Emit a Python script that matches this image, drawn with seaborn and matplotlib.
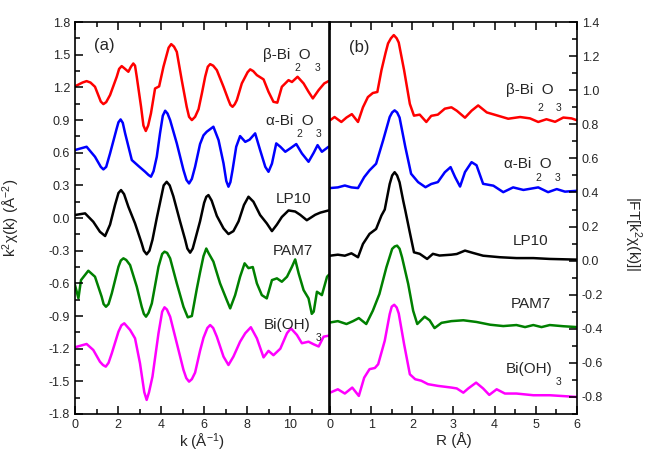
import matplotlib
matplotlib.use("Agg")
import matplotlib.pyplot as plt
from matplotlib.ticker import MultipleLocator, FormatStrFormatter
import seaborn as sns

# ---- (a) k-space, k^2 chi(k), offset curves ----
k_beta = [0, 0.35, 0.54, 0.72, 0.93, 1.2, 1.32, 1.45, 1.63, 1.94, 2.05, 2.17, 2.3, 2.48, 2.6, 2.71,
          2.79, 2.87, 3.07, 3.18, 3.29, 3.4, 3.53, 3.72, 3.91, 4.11, 4.35, 4.47, 4.6, 4.73, 4.96,
          5.19, 5.3, 5.43, 5.58, 5.74, 5.9, 6.05, 6.17, 6.28, 6.42, 6.59, 6.9, 7.13, 7.22, 7.32,
          7.42, 7.52, 7.75, 8.02, 8.14, 8.28, 8.45, 8.76, 8.99, 9.22, 9.4, 9.61, 9.92, 10.08,
          10.34, 10.62, 10.85, 11.05, 11.32, 11.58, 11.78]
chi_beta = [1.21, 1.245, 1.258, 1.245, 1.206, 1.07, 1.047, 1.065, 1.13, 1.298, 1.37, 1.396, 1.375,
            1.344, 1.39, 1.42, 1.40, 1.298, 1.022, 0.85, 0.80, 0.85, 0.962, 1.19, 1.21, 1.39, 1.565,
            1.598, 1.575, 1.527, 1.267, 1.022, 0.93, 0.90, 0.93, 1.0, 1.15, 1.30, 1.39, 1.414, 1.40,
            1.359, 1.206, 1.084, 1.04, 1.022, 1.045, 1.084, 1.237, 1.34, 1.366, 1.35, 1.313, 1.274,
            1.16, 1.068, 1.06, 1.206, 1.267, 1.25, 1.298, 1.237, 1.16, 1.099, 1.176, 1.237, 1.258]

k_alpha = [0, 0.54, 0.93, 1.2, 1.32, 1.45, 1.63, 1.94, 2.02, 2.12, 2.22, 2.33, 2.64, 2.95, 3.26,
           3.42, 3.53, 3.65, 3.8, 3.95, 4.08, 4.19, 4.3, 4.42, 4.73, 5.04, 5.18, 5.3, 5.43, 5.58,
           5.81, 5.97, 6.12, 6.43, 6.67, 6.9, 7.03, 7.13, 7.22, 7.32, 7.49, 7.67, 7.91, 8.11, 8.37,
           8.6, 8.84, 8.99, 9.15, 9.35, 9.54, 9.77, 10.0, 10.28, 10.54, 10.85, 11.09, 11.27, 11.47,
           11.78]
chi_alpha = [0.625, 0.655, 0.563, 0.47, 0.447, 0.47, 0.594, 0.824, 0.88, 0.906, 0.875, 0.778,
             0.533, 0.478, 0.425, 0.395, 0.38, 0.43, 0.563, 0.778, 0.94, 0.986, 0.96, 0.90, 0.686,
             0.441, 0.35, 0.318, 0.36, 0.471, 0.68, 0.76, 0.793, 0.839, 0.716, 0.503, 0.34, 0.288,
             0.33, 0.441, 0.655, 0.753, 0.70, 0.72, 0.778, 0.625, 0.471, 0.425, 0.5, 0.686, 0.655,
             0.609, 0.64, 0.68, 0.594, 0.517, 0.6, 0.67, 0.609, 0.655]

k_lp10 = [0, 0.47, 0.85, 1.16, 1.4, 1.63, 1.86, 2.02, 2.14, 2.28, 2.48, 2.79, 3.1, 3.2, 3.33, 3.46,
          3.6, 3.8, 3.95, 4.12, 4.26, 4.4, 4.57, 4.88, 5.12, 5.22, 5.35, 5.47, 5.58, 5.81, 6.0,
          6.1, 6.2, 6.35, 6.59, 6.9, 7.13, 7.36, 7.6, 7.85, 8.06, 8.29, 8.6, 8.91, 9.15, 9.38,
          9.61, 9.92, 10.23, 10.46, 10.77, 11.16, 11.4, 11.78]
chi_lp10 = [0.028, 0.043, -0.034, -0.126, -0.165, -0.06, 0.12, 0.23, 0.257, 0.22, 0.104, -0.049,
            -0.233, -0.3, -0.333, -0.3, -0.2, 0.0, 0.14, 0.3, 0.333, 0.3, 0.2, -0.03, -0.2, -0.28,
            -0.318, -0.28, -0.2, -0.03, 0.14, 0.195, 0.211, 0.16, 0.02, -0.095, -0.147, -0.12,
            -0.03, 0.12, 0.196, 0.15, 0.028, -0.049, -0.12, -0.06, 0.01, 0.07, 0.06, 0.03, -0.02,
            0.03, 0.05, 0.07]

k_pam7 = [0, 0.16, 0.28, 0.62, 0.93, 1.24, 1.33, 1.44, 1.56, 1.71, 2.02, 2.13, 2.25, 2.38, 2.56,
          2.87, 3.1, 3.2, 3.3, 3.42, 3.57, 3.88, 4.05, 4.16, 4.28, 4.42, 4.73, 5.04, 5.24, 5.43,
          5.66, 5.81, 5.97, 6.1, 6.2, 6.43, 6.74, 7.05, 7.21, 7.44, 7.67, 7.88, 8.06, 8.26, 8.45,
          8.68, 8.91, 9.15, 9.38, 9.61, 9.85, 10.08, 10.23, 10.39, 10.62, 10.85, 11.0, 11.09,
          11.24, 11.47, 11.71, 11.8]
chi_pam7 = [-0.615, -0.737, -0.57, -0.484, -0.539, -0.723, -0.79, -0.815, -0.79, -0.692, -0.447,
            -0.39, -0.37, -0.385, -0.432, -0.63, -0.815, -0.88, -0.906, -0.87, -0.784, -0.447,
            -0.33, -0.309, -0.32, -0.37, -0.6, -0.815, -0.912, -0.9, -0.65, -0.5, -0.35, -0.28,
            -0.32, -0.40, -0.6, -0.753, -0.83, -0.708, -0.539, -0.416, -0.46, -0.45, -0.6, -0.708,
            -0.738, -0.57, -0.554, -0.585, -0.539, -0.447, -0.38, -0.508, -0.662, -0.738, -0.88,
            -0.86, -0.677, -0.708, -0.539, -0.52]

k_bioh = [0, 0.54, 0.85, 1.16, 1.3, 1.43, 1.56, 1.71, 2.02, 2.16, 2.29, 2.56, 2.79, 3.02, 3.22,
          3.33, 3.44, 3.6, 3.88, 4.05, 4.16, 4.27, 4.42, 4.73, 5.04, 5.17, 5.3, 5.43, 5.58, 5.81,
          5.97, 6.15, 6.28, 6.42, 6.59, 6.9, 7.13, 7.36, 7.67, 7.91, 8.17, 8.45, 8.76, 8.99, 9.22,
          9.54, 9.85, 10.03, 10.31, 10.54, 10.85, 11.09, 11.32, 11.55, 11.8]
chi_bioh = [-1.187, -1.157, -1.212, -1.32, -1.35, -1.365, -1.33, -1.243, -1.044, -0.985, -0.967,
            -1.028, -1.105, -1.334, -1.6, -1.671, -1.6, -1.457, -1.058, -0.86, -0.82, -0.84,
            -0.906, -1.15, -1.395, -1.47, -1.503, -1.48, -1.42, -1.22, -1.10, -1.01, -0.983,
            -1.01, -1.09, -1.273, -1.35, -1.273, -1.136, -1.058, -1.003, -1.105, -1.28, -1.22,
            -1.26, -1.2, -1.058, -1.013, -1.074, -1.15, -1.136, -1.16, -1.18, -1.09, -1.08]

# ---- (b) R-space, |FT|, offset curves ----
r_beta = [0, 0.11, 0.275, 0.4, 0.53, 0.68, 0.8, 0.92, 1.04, 1.15, 1.25, 1.35, 1.41, 1.48, 1.55,
          1.62, 1.67, 1.8, 1.94, 2.04, 2.18, 2.34, 2.46, 2.62, 2.79, 2.95, 3.08, 3.28, 3.44, 3.6,
          3.81, 4.05, 4.33, 4.62, 4.86, 5.06, 5.26, 5.47, 5.67, 5.87, 6.0]
ft_beta = [0.824, 0.843, 0.814, 0.84, 0.86, 0.814, 0.90, 0.96, 0.984, 0.99, 1.118, 1.22, 1.275,
           1.305, 1.324, 1.305, 1.28, 1.118, 0.92, 0.851, 0.857, 0.814, 0.85, 0.857, 0.892, 0.90,
           0.88, 0.839, 0.88, 0.911, 0.87, 0.853, 0.833, 0.843, 0.835, 0.814, 0.83, 0.815, 0.84,
           0.835, 0.824]

r_alpha = [0, 0.19, 0.36, 0.52, 0.68, 0.83, 0.96, 1.12, 1.29, 1.45, 1.51, 1.57, 1.63, 1.69, 1.83,
           1.97, 2.14, 2.32, 2.46, 2.62, 2.79, 2.93, 3.04, 3.16, 3.28, 3.44, 3.56, 3.72, 3.97,
           4.21, 4.45, 4.7, 5.06, 5.3, 5.51, 5.71, 6.0]
ft_alpha = [0.426, 0.43, 0.441, 0.43, 0.426, 0.49, 0.53, 0.569, 0.706, 0.843, 0.87, 0.882, 0.87,
            0.84, 0.667, 0.51, 0.461, 0.431, 0.45, 0.461, 0.519, 0.549, 0.49, 0.435, 0.52, 0.578,
            0.56, 0.451, 0.44, 0.402, 0.43, 0.415, 0.43, 0.402, 0.42, 0.405, 0.41]

r_lp10 = [0, 0.19, 0.36, 0.52, 0.68, 0.8, 0.96, 1.12, 1.25, 1.33, 1.45, 1.51, 1.57, 1.63, 1.69,
          1.78, 1.83, 1.93, 2.04, 2.18, 2.36, 2.5, 2.66, 2.95, 3.08, 3.28, 3.48, 3.72, 4.13, 4.53,
          4.94, 5.34, 5.67, 6.0]
ft_lp10 = [0.029, 0.035, 0.029, 0.043, 0.02, 0.098, 0.157, 0.186, 0.265, 0.30, 0.45, 0.50, 0.519,
           0.50, 0.46, 0.35, 0.294, 0.176, 0.049, 0.04, 0.01, 0.04, 0.03, 0.035, 0.039, 0.059,
           0.045, 0.029, 0.02, 0.015, 0.015, 0.01, 0.008, 0.006]

r_pam7 = [0, 0.19, 0.4, 0.56, 0.7, 0.88, 1.04, 1.2, 1.37, 1.51, 1.57, 1.63, 1.69, 1.75, 1.9, 2.02,
          2.12, 2.3, 2.42, 2.54, 2.71, 2.95, 3.24, 3.56, 3.89, 4.21, 4.53, 4.74, 4.94, 5.14, 5.34,
          5.67, 6.0]
ft_pam7 = [-0.363, -0.355, -0.372, -0.355, -0.337, -0.372, -0.294, -0.196, -0.039, 0.069, 0.083,
           0.088, 0.07, 0.02, -0.137, -0.294, -0.372, -0.329, -0.35, -0.396, -0.365, -0.355,
           -0.35, -0.36, -0.376, -0.384, -0.378, -0.39, -0.378, -0.39, -0.378, -0.385, -0.39]

r_bioh = [0, 0.19, 0.36, 0.54, 0.7, 0.83, 0.96, 1.09, 1.17, 1.33, 1.45, 1.5, 1.56, 1.62, 1.67,
          1.8, 1.94, 2.07, 2.22, 2.38, 2.62, 2.95, 3.08, 3.24, 3.36, 3.55, 3.72, 3.87, 4.05, 4.25,
          4.53, 4.94, 5.34, 6.0]
ft_bioh = [-0.775, -0.755, -0.78, -0.745, -0.794, -0.687, -0.637, -0.63, -0.608, -0.47, -0.314,
           -0.27, -0.259, -0.275, -0.31, -0.49, -0.667, -0.696, -0.705, -0.725, -0.735, -0.745,
           -0.75, -0.775, -0.75, -0.716, -0.75, -0.788, -0.755, -0.78, -0.78, -0.79, -0.79, -0.8]

colors = ['#ff0000', '#0000ff', '#000000', '#008000', '#ff00ff']

sns.set_style('white')
plt.rcParams['font.family'] = ['Liberation Sans', 'DejaVu Sans']
plt.rcParams['mathtext.default'] = 'regular'
plt.rcParams['axes.unicode_minus'] = False
plt.rcParams['axes.edgecolor'] = 'black'
plt.rcParams['axes.linewidth'] = 1.2

fig = plt.figure(figsize=(6.48, 4.61), dpi=100)
ax1 = fig.add_axes([0.1157, 0.102, 0.392, 0.850])
ax2 = fig.add_axes([0.5093, 0.102, 0.381, 0.850])

left_series = [(k_beta, chi_beta), (k_alpha, chi_alpha), (k_lp10, chi_lp10),
               (k_pam7, chi_pam7), (k_bioh, chi_bioh)]
right_series = [(r_beta, ft_beta), (r_alpha, ft_alpha), (r_lp10, ft_lp10),
                (r_pam7, ft_pam7), (r_bioh, ft_bioh)]

for (x, y), c in zip(left_series, colors):
    sns.lineplot(x=x, y=y, ax=ax1, color=c, linewidth=1.8, estimator=None)
for (x, y), c in zip(right_series, colors):
    sns.lineplot(x=x, y=y, ax=ax2, color=c, linewidth=1.8, estimator=None)

ax1.set_xlim(0, 11.8)
ax1.set_ylim(-1.8, 1.8)
ax1.xaxis.set_major_locator(MultipleLocator(2))
ax1.xaxis.set_minor_locator(MultipleLocator(1))
ax1.yaxis.set_major_locator(MultipleLocator(0.3))
ax1.yaxis.set_minor_locator(MultipleLocator(0.15))
ax1.yaxis.set_major_formatter(FormatStrFormatter('%.1f'))

ax2.set_xlim(0, 6)
ax2.set_ylim(-0.9, 1.4)
ax2.xaxis.set_major_locator(MultipleLocator(1))
ax2.xaxis.set_minor_locator(MultipleLocator(0.5))
ax2.yaxis.set_major_locator(MultipleLocator(0.2))
ax2.yaxis.set_minor_locator(MultipleLocator(0.1))
ax2.yaxis.set_major_formatter(FormatStrFormatter('%.1f'))

ax1.set_xlabel('k (Å$^{-1}$)', fontsize=11, labelpad=1)
ax1.set_ylabel('k$^2$χ(k) (Å$^{-2}$)', fontsize=11)
ax1.yaxis.set_label_coords(-0.21, 0.5)
ax2.set_xlabel('R (Å)', fontsize=11, labelpad=1)
ax2.yaxis.set_label_position('right')
ax2.set_ylabel('|FT[k$^2$χ(k)]|', fontsize=11, rotation=270, va='center')
ax2.yaxis.set_label_coords(1.225, 0.46)

lab = dict(fontsize=11, va='center', ha='left')
sub = dict(fontsize=7.5, va='center', ha='center')

t1 = ax1.transAxes
ax1.text(0.114, 0.941, '(a)', transform=t1, fontsize=12, va='center', ha='center')
ax1.text(0.740, 0.916, 'β-Bi  O', transform=t1, **lab)
ax1.text(0.874, 0.883, '2', transform=t1, **sub)
ax1.text(0.953, 0.883, '3', transform=t1, **sub)
ax1.text(0.752, 0.748, 'α-Bi  O', transform=t1, **lab)
ax1.text(0.882, 0.715, '2', transform=t1, **sub)
ax1.text(0.957, 0.715, '3', transform=t1, **sub)
ax1.text(0.790, 0.548, 'LP10', transform=t1, **lab)
ax1.text(0.778, 0.416, 'PAM7', transform=t1, **lab)
ax1.text(0.745, 0.227, 'Bi(OH)', transform=t1, **lab)
ax1.text(0.957, 0.194, '3', transform=t1, **sub)

t2 = ax2.transAxes
ax2.text(0.117, 0.936, '(b)', transform=t2, fontsize=12, va='center', ha='center')
ax2.text(0.712, 0.827, 'β-Bi  O', transform=t2, **lab)
ax2.text(0.850, 0.781, '2', transform=t2, **sub)
ax2.text(0.927, 0.781, '3', transform=t2, **sub)
ax2.text(0.704, 0.638, 'α-Bi  O', transform=t2, **lab)
ax2.text(0.842, 0.602, '2', transform=t2, **sub)
ax2.text(0.923, 0.602, '3', transform=t2, **sub)
ax2.text(0.742, 0.441, 'LP10', transform=t2, **lab)
ax2.text(0.730, 0.281, 'PAM7', transform=t2, **lab)
ax2.text(0.712, 0.115, 'Bi(OH)', transform=t2, **lab)
ax2.text(0.927, 0.082, '3', transform=t2, **sub)

# inward ticks, set last
for which, ln in (('major', 6), ('minor', 3.5)):
    ax1.tick_params(which=which, direction='in', length=ln, width=1.1, color='black',
                    bottom=True, top=True, left=True, right=False, labelsize=9)
    ax2.tick_params(which=which, direction='in', length=ln, width=1.1, color='black',
                    bottom=True, top=True, left=False, right=True,
                    labelleft=False, labelright=True, labelsize=9)
for ax in (ax1, ax2):
    ax.set_axisbelow(False)

fig.savefig('out.png', dpi=100)
